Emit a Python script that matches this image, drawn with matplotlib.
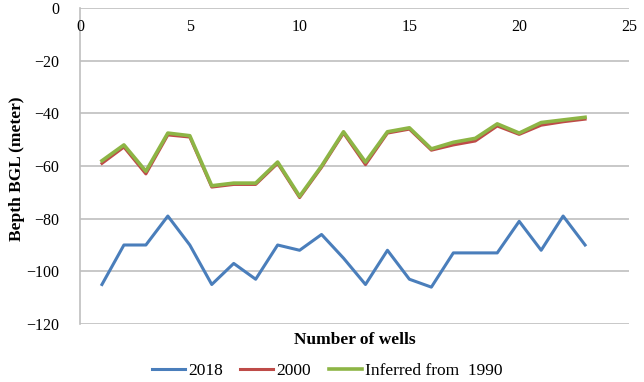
import matplotlib
matplotlib.use("Agg")
import matplotlib.pyplot as plt
from matplotlib.transforms import blended_transform_factory

wells = list(range(1, 24))
s2018 = [-105, -90, -90, -79, -90, -105, -97, -103, -90, -92, -86, -95, -105, -92, -103, -106, -93, -93, -93, -81, -92, -79, -90]
s2000 = [-59, -52.8, -63, -48.2, -49, -68, -67, -67, -59, -72, -60.5, -47.5, -59.5, -47.5, -46, -54, -52, -50.5, -44.8, -48, -44.5, -43.2, -42.2]
s1990 = [-58, -52, -62, -47.5, -48.5, -67.5, -66.5, -66.5, -58.5, -71.5, -60, -47, -58.5, -47, -45.5, -53.5, -51, -49.5, -44, -47.5, -43.5, -42.5, -41.5]
xticks = [0, 5, 10, 15, 20, 25]
yticks = [0, -20, -40, -60, -80, -100, -120]

plt.rcParams['font.family'] = ['Liberation Serif', 'DejaVu Serif']

fig = plt.figure(figsize=(6.44, 3.82), dpi=100)
ax = fig.add_axes([80/644, 1-324/382, (629-80)/644, (324-8)/382])

ax.plot(wells, s2018, color='#4a7ebb', lw=2.2, label='2018')
ax.plot(wells, s2000, color='#be4b48', lw=2.2, label='2000')
ax.plot(wells, s1990, color='#8db545', lw=2.6, label='Inferred from  1990')

ax.set_xlim(0, 25)
ax.set_ylim(-120, 0)
ax.set_yticks(yticks)
ax.set_yticklabels([str(v).replace('-', '\u2212') if v != 0 else '0' for v in yticks], fontsize=11.5)
ax.set_xticks(xticks)
ax.set_xticklabels([])
ax.tick_params(axis='x', length=0)
ax.tick_params(axis='y', length=0, pad=15)
ax.grid(axis='y', color='#bfbfbf', lw=1.2)
ax.set_axisbelow(True)
for s in ['top', 'right', 'bottom']:
    ax.spines[s].set_visible(False)
ax.spines['left'].set_color('#bfbfbf')
ax.spines['left'].set_linewidth(1.2)

tr = blended_transform_factory(ax.transData, ax.transAxes)
for t in xticks:
    ax.text(t, 1 - 19/316, str(t), transform=tr, ha='center', va='center', fontsize=11.5)

ax.set_ylabel('Bepth BGL (meter)', fontsize=12.5, fontweight='bold')
ax.yaxis.set_label_coords(-55/549, 0.49)
ax.set_xlabel('Number of wells', fontsize=12.5, fontweight='bold', labelpad=2)

fig.legend(*ax.get_legend_handles_labels(), loc='center',
           bbox_to_anchor=(327/644, 1 - 371/382), ncol=3, frameon=False,
           fontsize=12.5, handlelength=1.9, columnspacing=1.0, handletextpad=0.2,
           borderpad=0, borderaxespad=0)

fig.savefig('out.png', dpi=100)
